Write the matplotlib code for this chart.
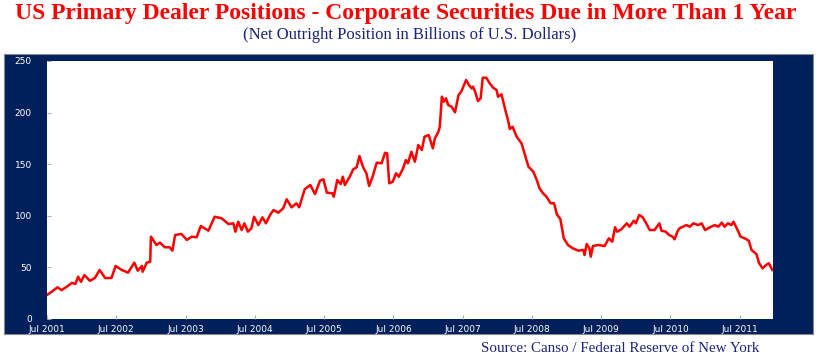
import matplotlib
matplotlib.use("Agg")
from matplotlib import pyplot as plt

# fechas en años decimales y posición neta en miles de millones
fechas = [2001.50, 2001.57, 2001.65, 2001.71, 2001.78, 2001.86, 2001.91, 2001.95, 2001.99,
          2002.04, 2002.12, 2002.19, 2002.26, 2002.34, 2002.43, 2002.49, 2002.58, 2002.67,
          2002.76, 2002.81, 2002.87, 2002.88, 2002.94, 2002.99, 2003.00, 2003.08, 2003.13,
          2003.20, 2003.27, 2003.31, 2003.35, 2003.44, 2003.52, 2003.59, 2003.66, 2003.72,
          2003.83, 2003.92, 2004.02, 2004.12, 2004.19, 2004.22, 2004.26, 2004.31, 2004.35,
          2004.40, 2004.45, 2004.49, 2004.55, 2004.61, 2004.66, 2004.72, 2004.77, 2004.84,
          2004.91, 2004.96, 2005.03, 2005.10, 2005.14, 2005.22, 2005.30, 2005.37, 2005.44,
          2005.49, 2005.54, 2005.62, 2005.64, 2005.69, 2005.74, 2005.77, 2005.80, 2005.87,
          2005.92, 2005.97, 2006.01, 2006.06, 2006.11, 2006.15, 2006.20, 2006.26, 2006.33,
          2006.38, 2006.41, 2006.44, 2006.49, 2006.54, 2006.58, 2006.64, 2006.68, 2006.71,
          2006.76, 2006.81, 2006.86, 2006.91, 2006.95, 2007.01, 2007.07, 2007.10, 2007.15,
          2007.17, 2007.20, 2007.23, 2007.26, 2007.29, 2007.34, 2007.39, 2007.44, 2007.48,
          2007.55, 2007.59, 2007.63, 2007.65, 2007.68, 2007.72, 2007.76, 2007.79, 2007.84,
          2007.89, 2007.94, 2007.99, 2008.01, 2008.06, 2008.11, 2008.16, 2008.18, 2008.22,
          2008.28, 2008.35, 2008.40, 2008.45, 2008.52, 2008.57, 2008.61, 2008.66, 2008.71,
          2008.77, 2008.82, 2008.86, 2008.91, 2008.96, 2009.02, 2009.09, 2009.17, 2009.24,
          2009.26, 2009.29, 2009.33, 2009.35, 2009.38, 2009.46, 2009.55, 2009.61, 2009.66,
          2009.70, 2009.73, 2009.79, 2009.87, 2009.91, 2009.97, 2010.00, 2010.05, 2010.10,
          2010.15, 2010.20, 2010.27, 2010.34, 2010.37, 2010.43, 2010.48, 2010.53, 2010.56,
          2010.60, 2010.63, 2010.68, 2010.73, 2010.78, 2010.83, 2010.90, 2010.95, 2011.00,
          2011.07, 2011.14, 2011.19, 2011.24, 2011.28, 2011.33, 2011.38, 2011.41, 2011.48,
          2011.51, 2011.57, 2011.63, 2011.67, 2011.74, 2011.78, 2011.83, 2011.88, 2011.92,
          2011.97]
posicion = [23.3, 26.5, 30.7, 28.0, 31.0, 35.0, 34.0, 41.0, 36.0,
            42.6, 37.0, 39.7, 47.5, 39.7, 39.7, 51.4, 47.5, 44.9,
            54.6, 46.8, 51.4, 45.8, 54.6, 55.5, 79.8, 71.7, 74.0,
            69.5, 69.5, 66.2, 81.4, 82.4, 76.6, 79.8, 79.2, 90.1,
            85.6, 99.1, 97.6, 92.0, 92.7, 84.6, 94.3, 86.2, 92.7,
            84.6, 87.9, 99.1, 91.0, 98.5, 92.7, 100.8, 105.6, 103.0,
            107.3, 116.0, 108.2, 112.1, 108.2, 125.7, 129.8, 121.1, 134.0,
            135.4, 122.4, 121.8, 118.5, 134.7, 130.8, 137.9, 129.8, 137.9,
            145.0, 147.0, 157.9, 147.6, 141.2, 128.9, 137.9, 151.5, 150.9,
            161.1, 160.5, 131.5, 133.0, 141.2, 137.9, 146.0, 154.0, 150.9,
            162.1, 152.4, 168.6, 163.8, 176.6, 178.3, 165.4, 175.1, 181.5,
            186.3, 215.4, 210.6, 213.9, 207.4, 205.7, 200.3, 217.0, 220.3,
            231.6, 226.7, 223.5, 225.1, 220.3, 211.2, 213.9, 233.8, 233.8,
            228.4, 224.1, 221.9, 215.4, 217.7, 204.2, 191.2, 184.1, 186.3,
            176.6, 170.2, 158.9, 147.6, 142.7, 134.7, 126.6, 121.8, 118.5,
            112.1, 112.1, 101.4, 96.9, 78.2, 71.7, 68.5, 66.2, 66.9,
            62.0, 72.7, 68.5, 60.4, 70.7, 71.7, 70.7, 78.2, 74.9,
            88.9, 84.6, 86.9, 92.7, 89.4, 95.3, 92.7, 100.8, 98.5,
            92.7, 86.2, 86.2, 92.7, 85.6, 84.6, 81.4, 79.8, 77.2,
            84.6, 87.9, 89.4, 91.0, 89.4, 92.7, 91.0, 92.7, 86.2,
            88.9, 91.0, 89.4, 93.4, 89.4, 92.7, 91.0, 94.3, 84.6,
            79.8, 78.2, 75.9, 66.9, 63.0, 54.0, 49.1, 52.3, 54.0,
            47.5]

anios = list(range(2001, 2012))
etiquetasX = ["Jul " + str(a) for a in anios]
ticksY = [0, 50, 100, 150, 200, 250]

azul = "#00205b"
rojo = "#ff0000"

fig = plt.figure(figsize=(8.16, 3.62), dpi=100)

# panel azul de fondo (ejes vacíos detrás de la gráfica)
fondo = fig.add_axes([0.005, 0.077, 0.991, 0.774], zorder=0)
fondo.set_facecolor(azul)
fondo.set_xticks([])
fondo.set_yticks([])
for s in fondo.spines.values():
    s.set_color("#8a8a8a")
    s.set_linewidth(0.8)

ax = fig.add_axes([0.0576, 0.1188, 0.8897, 0.7127], zorder=1)
ax.set_facecolor("white")
ax.plot(fechas, posicion, color=rojo, linewidth=1.8)

ax.set_xlim(2001.5, 2011.98)
ax.set_ylim(0, 250)
ax.set_xticks([a + 0.5 for a in anios])
ax.set_xticklabels(etiquetasX)
ax.set_yticks(ticksY)
ax.tick_params(axis="both", direction="in", length=3, color="#b0b0b0", labelcolor="white",
               labelsize=6.5)
ax.tick_params(axis="y", pad=11)
ax.tick_params(axis="x", pad=4)
for s in ax.spines.values():
    s.set_visible(False)

fig.text(0.497, 0.962, "US Primary Dealer Positions - Corporate Securities Due in More Than 1 Year",
         ha="center", va="center", color=rojo, fontsize=17, fontweight="bold",
         family="Liberation Serif")
fig.text(0.502, 0.903, "(Net Outright Position in Billions of U.S. Dollars)",
         ha="center", va="center", color="#1a237e", fontsize=12, family="Liberation Serif")
fig.text(0.930, 0.036, "Source: Canso / Federal Reserve of New York",
         ha="right", va="center", color="#1a237e", fontsize=10.8, family="Liberation Serif")

fig.savefig("out.png", dpi=100)
